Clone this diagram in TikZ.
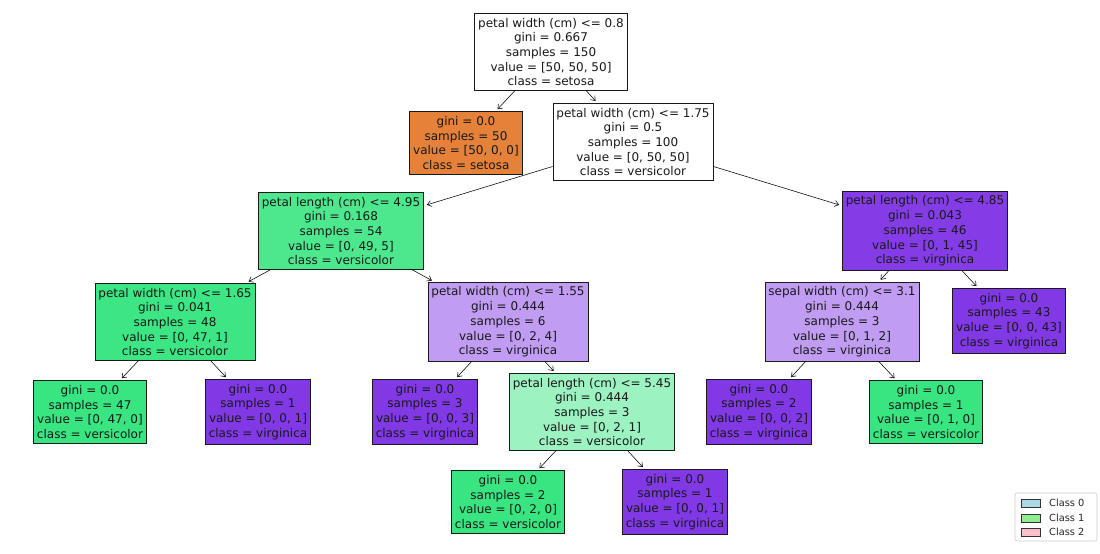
\documentclass[tikz,border=0pt]{standalone}
\usepackage{fontspec}
\setmainfont{DejaVu Sans}
\usetikzlibrary{arrows.meta}
\definecolor{cOrange}{RGB}{229,129,57}
\definecolor{cGreen}{RGB}{57,229,129}
\definecolor{cGreenA}{RGB}{77,232,142}
\definecolor{cGreenB}{RGB}{61,230,132}
\definecolor{cGreenH}{RGB}{156,242,192}
\definecolor{cPurple}{RGB}{129,57,229}
\definecolor{cPurpleA}{RGB}{132,61,230}
\definecolor{cPurpleH}{RGB}{192,156,242}
\definecolor{lgBlue}{HTML}{ADD8E6}
\definecolor{lgGreen}{HTML}{90EE90}
\definecolor{lgPink}{HTML}{FFC0CB}
\definecolor{lgFrame}{RGB}{204,204,204}
\tikzset{
  tnode/.style={draw=black!90, line width=0.7pt, align=center, inner xsep=3.5pt, inner ysep=4.5pt,
    font=\fontsize{12}{14.7}\selectfont, text=black!90},
  edge/.style={-{Straight Barb[length=4pt,width=6pt]}, line width=0.55pt, shorten >=3pt},
  patch/.style={draw=black!80, line width=0.5pt, minimum width=19pt, minimum height=8pt, inner sep=0pt},
  lgtext/.style={font=\fontsize{9.8}{11}\selectfont, anchor=west, inner sep=0pt, text=black!85}
}
\begin{document}
\begin{tikzpicture}[x=1pt,y=-1pt]
\useasboundingbox[fill=white] (0,0) rectangle (1100,554);
\node[tnode, fill=white] (n0) at (551,52) {petal width (cm) <= 0.8\\gini = 0.667\\samples = 150\\value = [50, 50, 50]\\class = setosa};
\node[tnode, fill=cOrange] (n1) at (466,143) {gini = 0.0\\samples = 50\\value = [50, 0, 0]\\class = setosa};
\node[tnode, fill=white] (n2) at (633,142) {petal width (cm) <= 1.75\\gini = 0.5\\samples = 100\\value = [0, 50, 50]\\class = versicolor};
\node[tnode, fill=cGreenA] (n3) at (341,231) {petal length (cm) <= 4.95\\gini = 0.168\\samples = 54\\value = [0, 49, 5]\\class = versicolor};
\node[tnode, fill=cPurpleA] (n4) at (925,231) {petal length (cm) <= 4.85\\gini = 0.043\\samples = 46\\value = [0, 1, 45]\\class = virginica};
\node[tnode, fill=cGreenB] (n5) at (175,322) {petal width (cm) <= 1.65\\gini = 0.041\\samples = 48\\value = [0, 47, 1]\\class = versicolor};
\node[tnode, fill=cPurpleH] (n6) at (508,322) {petal width (cm) <= 1.55\\gini = 0.444\\samples = 6\\value = [0, 2, 4]\\class = virginica};
\node[tnode, fill=cPurpleH] (n7) at (842,322) {sepal width (cm) <= 3.1\\gini = 0.444\\samples = 3\\value = [0, 1, 2]\\class = virginica};
\node[tnode, fill=cPurple] (n8) at (1009,321) {gini = 0.0\\samples = 43\\value = [0, 0, 43]\\class = virginica};
\node[tnode, fill=cGreen] (n9) at (90,412) {gini = 0.0\\samples = 47\\value = [0, 47, 0]\\class = versicolor};
\node[tnode, fill=cPurple] (n10) at (258,412) {gini = 0.0\\samples = 1\\value = [0, 0, 1]\\class = virginica};
\node[tnode, fill=cPurple] (n11) at (425,412) {gini = 0.0\\samples = 3\\value = [0, 0, 3]\\class = virginica};
\node[tnode, fill=cGreenH] (n12) at (592,412) {petal length (cm) <= 5.45\\gini = 0.444\\samples = 3\\value = [0, 2, 1]\\class = versicolor};
\node[tnode, fill=cPurple] (n13) at (759,412) {gini = 0.0\\samples = 2\\value = [0, 0, 2]\\class = virginica};
\node[tnode, fill=cGreen] (n14) at (926,412) {gini = 0.0\\samples = 1\\value = [0, 1, 0]\\class = versicolor};
\node[tnode, fill=cGreen] (n15) at (508,502) {gini = 0.0\\samples = 2\\value = [0, 2, 0]\\class = versicolor};
\node[tnode, fill=cPurple] (n16) at (675,502) {gini = 0.0\\samples = 1\\value = [0, 0, 1]\\class = virginica};
\draw[edge] (n0) -- (n1);
\draw[edge] (n0) -- (n2);
\draw[edge] (n2) -- (n3);
\draw[edge] (n2) -- (n4);
\draw[edge] (n3) -- (n5);
\draw[edge] (n3) -- (n6);
\draw[edge] (n4) -- (n7);
\draw[edge] (n4) -- (n8);
\draw[edge] (n5) -- (n9);
\draw[edge] (n5) -- (n10);
\draw[edge] (n6) -- (n11);
\draw[edge] (n6) -- (n12);
\draw[edge] (n7) -- (n13);
\draw[edge] (n7) -- (n14);
\draw[edge] (n12) -- (n15);
\draw[edge] (n12) -- (n16);
% legend
\node[draw=lgFrame, rounded corners=2pt, line width=0.6pt, minimum width=82pt, minimum height=48pt, inner sep=0pt, fill=white] (lg) at (1056,517) {};
\node[patch, fill=lgBlue] (p0) at (1031,503) {};
\node[patch, fill=lgGreen] (p1) at (1031,518) {};
\node[patch, fill=lgPink] (p2) at (1031,532) {};
\node[lgtext] (t0) at (1049,503) {Class 0};
\node[lgtext] (t1) at (1049,518) {Class 1};
\node[lgtext] (t2) at (1049,532) {Class 2};
\end{tikzpicture}
\end{document}
